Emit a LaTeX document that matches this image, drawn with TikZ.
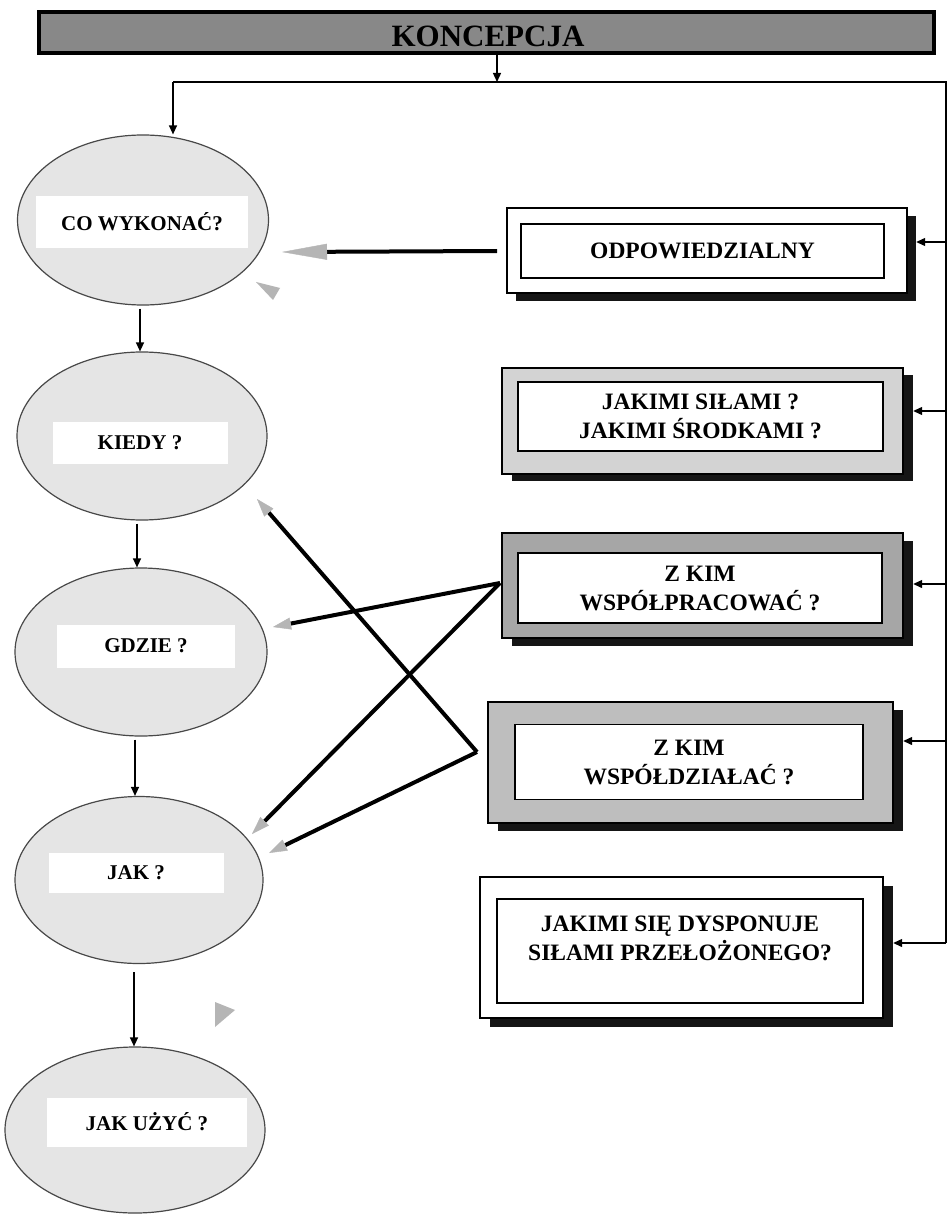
\documentclass[tikz,border=0pt]{standalone}
\usepackage{fontspec}
\setmainfont{Liberation Serif}
\usetikzlibrary{shapes.geometric,arrows.meta,calc}
\definecolor{ellgray}{HTML}{E5E5E5}
\definecolor{bargray}{HTML}{888888}
\definecolor{boxA}{HTML}{D3D3D3}
\definecolor{boxB}{HTML}{A6A6A6}
\definecolor{boxC}{HTML}{BEBEBE}
\definecolor{arrgray}{HTML}{B5B5B5}
\definecolor{shadowc}{HTML}{151515}
\definecolor{ellline}{HTML}{484848}
\newcommand\myellfont{\bfseries\fontsize{21}{24}\selectfont}
\newcommand\mybxfont{\bfseries\fontsize{23.5}{29}\selectfont}
\newcommand\mybarfont{\bfseries\fontsize{31}{34}\selectfont}
\begin{document}
\begin{tikzpicture}[x=1pt,y=-1pt,
  thinarr/.style={line width=1.3pt,-{Triangle[length=9pt,width=8pt]}},
  thickarr/.style={line width=4pt,-{Triangle[length=18pt,width=12pt,line width=0.4pt,color=arrgray]}},
  longarr/.style={line width=4pt,-{Triangle[length=45pt,width=16pt,line width=0.4pt,color=arrgray]}},
  ell/.style={ellipse,draw=ellline,line width=1.2pt,fill=ellgray,inner sep=0pt},
  elllab/.style={fill=white,inner sep=0pt,font=\myellfont},
  shadowbox/.style={fill=shadowc,draw=none,inner sep=0pt},
  outerbox/.style={draw=black,line width=1.5pt,inner sep=0pt},
  innerbox/.style={draw=black,line width=1.5pt,fill=white,inner sep=0pt,align=center,font=\mybxfont},
  boxtext/.style={align=center,font=\mybxfont,inner sep=0pt}
]
\useasboundingbox (0,0) rectangle (948,1214);
\fill[white] (0,0) rectangle (948,1214);

% title bar
\node[draw=black,line width=4pt,fill=bargray,minimum width=895pt,minimum height=41pt,inner sep=0pt] (bar) at (486.5,32.5) {};
\node[font=\mybarfont,inner sep=0pt] (bartext) at (488,36) {KONCEPCJA};

% ellipses (left column)
\node[ell,minimum width=251pt,minimum height=170pt] (e1) at (143,220) {};
\node[ell,minimum width=250pt,minimum height=168pt] (e2) at (142,436) {};
\node[ell,minimum width=252pt,minimum height=168pt] (e3) at (141,652) {};
\node[ell,minimum width=248pt,minimum height=167pt] (e4) at (139,880) {};
\node[ell,minimum width=260pt,minimum height=166pt] (e5) at (135,1130) {};

\node[elllab,minimum width=212pt,minimum height=52pt] (t1) at (142,222) {CO WYKONAĆ?};
\node[elllab,minimum width=175pt,minimum height=42pt] (t2) at (140,443) {KIEDY ?};
\node[elllab,minimum width=178pt,minimum height=43pt] (t3) at (146,646) {GDZIE ?};
\node[elllab,minimum width=175pt,minimum height=40pt] (t4) at (136,873) {JAK ?};
\node[elllab,minimum width=200pt,minimum height=49pt] (t5) at (147,1122) {JAK UŻYĆ ?};

% right boxes: shadows
\node[shadowbox,minimum width=400pt,minimum height=85pt] (sh1) at (716,258.5) {};
\node[shadowbox,minimum width=401pt,minimum height=106pt] (sh2) at (712.5,428) {};
\node[shadowbox,minimum width=401pt,minimum height=105pt] (sh3) at (712.5,593.5) {};
\node[shadowbox,minimum width=405pt,minimum height=121pt] (sh4) at (700.5,770.5) {};
\node[shadowbox,minimum width=403pt,minimum height=141pt] (sh5) at (691.5,956.5) {};

% outer frames
\node[outerbox,fill=white,minimum width=400pt,minimum height=85pt] (o1) at (707,250.5) {};
\node[outerbox,fill=boxA,minimum width=401pt,minimum height=106pt] (o2) at (702.5,421) {};
\node[outerbox,fill=boxB,minimum width=401pt,minimum height=105pt] (o3) at (702.5,585.5) {};
\node[outerbox,fill=boxC,minimum width=405pt,minimum height=121pt] (o4) at (690.5,762.5) {};
\node[outerbox,fill=white,minimum width=403pt,minimum height=141pt] (o5) at (681.5,947.5) {};

% inner boxes with text
\node[innerbox,minimum width=363pt,minimum height=54pt] (b1) at (702.5,251) {ODPOWIEDZIALNY};
\node[innerbox,minimum width=365pt,minimum height=69pt] (b2) at (700.5,416.5) {JAKIMI SIŁAMI ?\\JAKIMI ŚRODKAMI ?};
\node[innerbox,minimum width=364pt,minimum height=70pt] (b3) at (700,588) {Z KIM\\WSPÓŁPRACOWAĆ ?};
\node[innerbox,minimum width=348pt,minimum height=75pt] (b4) at (689,762) {Z KIM\\WSPÓŁDZIAŁAĆ ?};
\node[innerbox,minimum width=366pt,minimum height=104pt] (b5) at (680,951) {};
\node[boxtext] (b5t) at (680,938) {JAKIMI SIĘ DYSPONUJE\\SIŁAMI PRZEŁOŻONEGO?};

% distribution lines
\coordinate (hl) at (173,82);
\coordinate (hr) at (946,82);
\coordinate (vb) at (946,943);
\draw[thinarr] (bar.south -| 497,0) -- (hl -| 497,0);
\draw[line width=1.3pt] (hl) -- (hr) -- (vb);
\draw[thinarr] (hl) -- (hl |- e1.north);
\coordinate (r1) at (946,242);
\coordinate (r2) at (946,411);
\coordinate (r3) at (946,584);
\coordinate (r4) at (946,741);
\draw[thinarr] (r1) -- (sh1.east |- r1);
\draw[thinarr] (r2) -- (sh2.east |- r2);
\draw[thinarr] (r3) -- (sh3.east |- r3);
\draw[thinarr] (r4) -- (sh4.east |- r4);
\draw[thinarr] (vb) -- (sh5.east |- vb);

% vertical sequence
\draw[thinarr] ([yshift=-3pt]e1.south -| 140,0) -- (e2.north -| 140,0);
\draw[thinarr] ([yshift=-3pt]e2.south -| 137,0) -- (e3.north -| 137,0);
\draw[thinarr] ([yshift=-3pt]e3.south -| 135,0) -- (e4.north -| 135,0);
\draw[thinarr] ([yshift=-8pt]e4.south -| 134,0) -- (e5.north -| 134,0);

% thick connectors
\coordinate (s1) at (497,251);
\coordinate (s3) at (500,583);
\coordinate (s4) at (477,752);
\coordinate (k1) at (282,252);
\coordinate (k2) at (257,499);
\coordinate (k3) at (273,627);
\coordinate (k4a) at (252,834);
\coordinate (k4b) at (269,853);
\draw[longarr] (s1) -- (k1);
\draw[thickarr] (s4) -- (k2);
\draw[thickarr] (s3) -- (k3);
\draw[thickarr] (s3) -- (k4a);
\draw[thickarr] (s4) -- (k4b);

% stray grey arrowheads
\fill[arrgray] (256,282) -- (280,288) -- (273,300) -- cycle;
\fill[arrgray] (215,1002) -- (235,1010) -- (215,1027) -- cycle;
\end{tikzpicture}
\end{document}
